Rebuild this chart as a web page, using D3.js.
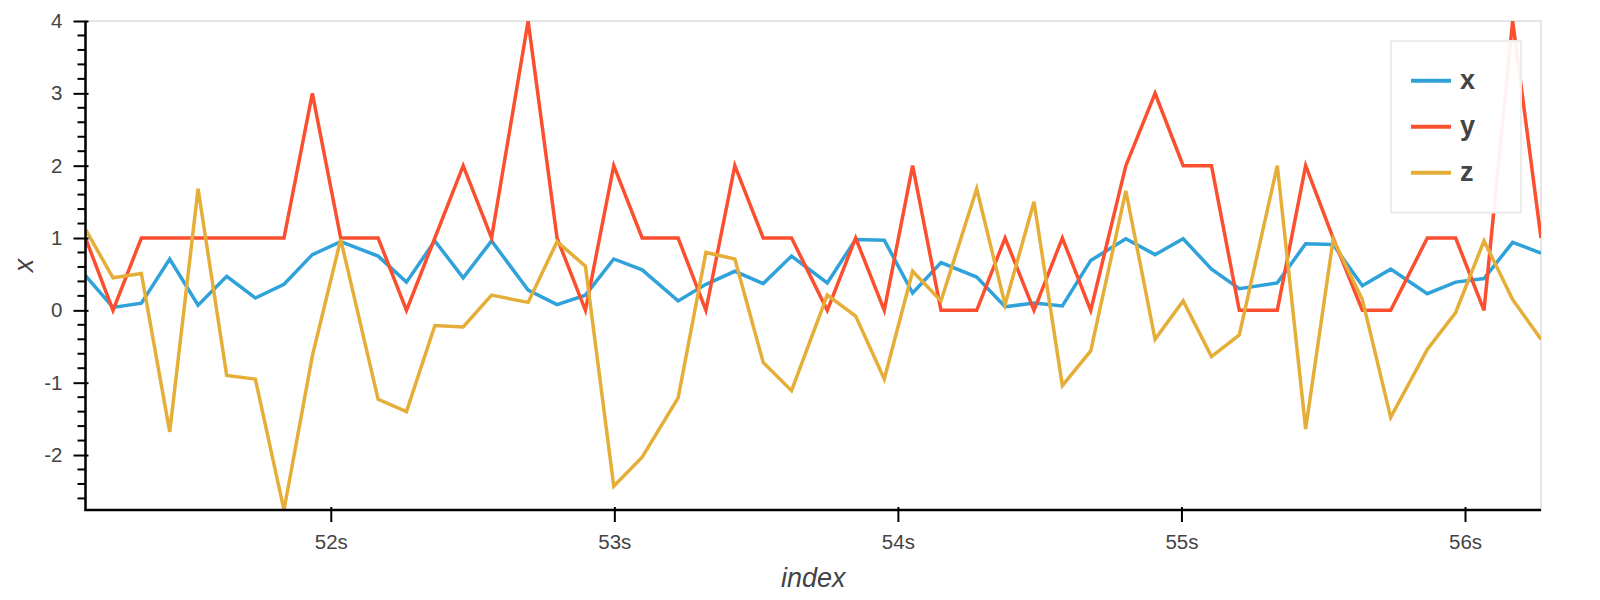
<!DOCTYPE html>
<html>
<head>
<meta charset="utf-8">
<script src="https://cdn.jsdelivr.net/npm/d3@7"></script>
<style>
  html, body { margin: 0; padding: 0; background: #fff; }
  svg { display: block; }
  text { font-family: "Liberation Sans", Arial, Helvetica, sans-serif; fill: #444; }
</style>
</head>
<body>
<svg id="chart" width="1600" height="600"></svg>
<script>
// ---- data ----
const times = [51.135, 51.232, 51.332, 51.432, 51.532, 51.633, 51.734, 51.835, 51.935, 52.035,
  52.167, 52.267, 52.367, 52.467, 52.567, 52.696, 52.798, 52.898, 52.998, 53.098,
  53.225, 53.323, 53.425, 53.525, 53.625, 53.751, 53.851, 53.952, 54.052, 54.152,
  54.278, 54.378, 54.480, 54.580, 54.680, 54.804, 54.907, 55.006, 55.106, 55.204,
  55.338, 55.438, 55.535, 55.638, 55.738, 55.867, 55.967, 56.067, 56.168, 56.268];
const xValues = [0.48, 0.04, 0.10, 0.71, 0.07, 0.47, 0.17, 0.36, 0.77, 0.95,
  0.75, 0.39, 0.96, 0.45, 0.96, 0.28, 0.08, 0.21, 0.71, 0.56,
  0.13, 0.36, 0.54, 0.37, 0.75, 0.38, 0.98, 0.97, 0.24, 0.66,
  0.46, 0.05, 0.10, 0.06, 0.69, 0.99, 0.77, 0.99, 0.57, 0.30,
  0.38, 0.92, 0.91, 0.34, 0.57, 0.23, 0.39, 0.44, 0.94, 0.79];
const yValues = [1, 0, 1, 1, 1, 1, 1, 1, 3, 1,
  1, 0, 1, 2, 1, 4, 1, 0, 2, 1,
  1, 0, 2, 1, 1, 0, 1, 0, 2, 0,
  0, 1, 0, 1, 0, 2, 3, 2, 2, 0,
  0, 2, 1, 0, 0, 1, 1, 0, 4, 1];
const zValues = [1.12, 0.45, 0.51, -1.68, 1.68, -0.90, -0.95, -2.76, -0.63, 0.98,
  -1.23, -1.40, -0.21, -0.23, 0.21, 0.11, 0.95, 0.61, -2.43, -2.03,
  -1.21, 0.80, 0.71, -0.72, -1.11, 0.21, -0.08, -0.95, 0.54, 0.13,
  1.68, 0.08, 1.50, -1.04, -0.56, 1.65, -0.40, 0.13, -0.64, -0.34,
  2.00, -1.64, 0.98, 0.15, -1.48, -0.54, -0.03, 0.96, 0.15, -0.40];
const seriesNames = ["x", "y", "z"];
const seriesColors = ["#30a2da", "#fc4f30", "#e5ae38"];
const xTickValues = [52, 53, 54, 55, 56];
const xTickLabels = ["52s", "53s", "54s", "55s", "56s"];
const yTickValues = [-2, -1, 0, 1, 2, 3, 4];
const yTickLabels = ["-2", "-1", "0", "1", "2", "3", "4"];
const xAxisTitle = "index";
const yAxisTitle = "x";

// ---- layout ----
const svg = d3.select("#chart");
const plot = { left: 85.5, right: 1541, top: 21, bottom: 510 };

const seriesValues = [xValues, yValues, zValues];
const series = seriesNames.map((name, i) => ({
  name, color: seriesColors[i],
  points: times.map((t, j) => ({ t, v: seriesValues[i][j] }))
}));

const allVals = seriesValues.flat();
const xScale = d3.scaleLinear().domain(d3.extent(times)).range([plot.left, plot.right]);
const yScale = d3.scaleLinear().domain([d3.min(allVals), d3.max(allVals)]).range([plot.bottom, plot.top]);

// outline
svg.append("rect")
  .attr("x", plot.left).attr("y", plot.top)
  .attr("width", plot.right - plot.left).attr("height", plot.bottom - plot.top)
  .attr("fill", "none").attr("stroke", "#e5e5e5").attr("stroke-width", 2);

// clip
svg.append("defs").append("clipPath").attr("id", "clip")
  .append("rect")
  .attr("x", plot.left).attr("y", plot.top)
  .attr("width", plot.right - plot.left).attr("height", plot.bottom - plot.top);

const line = d3.line().x(d => xScale(d.t)).y(d => yScale(d.v));
const gLines = svg.append("g").attr("clip-path", "url(#clip)");
series.forEach(s => {
  gLines.append("path")
    .datum(s.points)
    .attr("d", line)
    .attr("fill", "none")
    .attr("stroke", s.color)
    .attr("stroke-width", 3.5)
    .attr("stroke-linejoin", "miter");
});

// x axis
const xAxis = d3.axisBottom(xScale)
  .tickValues(xTickValues)
  .tickFormat((d, i) => xTickLabels[i])
  .tickSizeInner(12).tickSizeOuter(0).tickPadding(12);
const gx = svg.append("g").attr("transform", `translate(0,${plot.bottom})`).call(xAxis);
gx.select(".domain").attr("stroke", "#000").attr("stroke-width", 2.5)
  .attr("d", `M${plot.left - 1},0H${plot.right}`);
gx.selectAll(".tick line").attr("stroke", "#000").attr("stroke-width", 2).attr("y1", -3);
gx.selectAll(".tick text").attr("font-size", 20.5).attr("fill", "#444")
  .style("font-family", "'Liberation Sans', Arial, sans-serif");

// y minor ticks
const minorTicks = d3.range(-26, 40, 2).map(d => d / 10).filter(d => !Number.isInteger(d));
svg.append("g").selectAll("line").data(minorTicks).join("line")
  .attr("x1", plot.left - 8).attr("x2", plot.left)
  .attr("y1", d => yScale(d)).attr("y2", d => yScale(d))
  .attr("stroke", "#000").attr("stroke-width", 2);

// y axis
const yAxis = d3.axisLeft(yScale)
  .tickValues(yTickValues)
  .tickFormat((d, i) => yTickLabels[i])
  .tickSizeInner(12).tickSizeOuter(0).tickPadding(11);
const gy = svg.append("g").attr("transform", `translate(${plot.left},0)`).call(yAxis);
gy.select(".domain").attr("stroke", "#000").attr("stroke-width", 2.5)
  .attr("d", `M0,${plot.top}V${plot.bottom + 1}`);
gy.selectAll(".tick line").attr("stroke", "#000").attr("stroke-width", 2).attr("x1", 3);
gy.selectAll(".tick text").attr("font-size", 20.5).attr("fill", "#444")
  .style("font-family", "'Liberation Sans', Arial, sans-serif");

// axis titles
svg.append("text")
  .attr("x", (plot.left + plot.right) / 2).attr("y", 586.5)
  .attr("text-anchor", "middle")
  .attr("font-size", 27).attr("font-style", "italic")
  .text(xAxisTitle);
svg.append("text")
  .attr("transform", `translate(33.3,${(plot.top + plot.bottom) / 2}) rotate(-90)`)
  .attr("text-anchor", "middle")
  .attr("font-size", 27).attr("font-style", "italic")
  .text(yAxisTitle);

// legend
const legend = svg.append("g");
legend.append("rect")
  .attr("x", 1391).attr("y", 41).attr("width", 130).attr("height", 171.5)
  .attr("fill", "#fff").attr("fill-opacity", 0.93)
  .attr("stroke", "#ececec").attr("stroke-width", 2);
const items = legend.selectAll("g.item").data(series).join("g")
  .attr("class", "item")
  .attr("transform", (d, i) => `translate(0,${80.7 + i * 46})`);
items.append("line")
  .attr("x1", 1411).attr("x2", 1451).attr("y1", 0).attr("y2", 0)
  .attr("stroke", d => d.color).attr("stroke-width", 4);
items.append("text")
  .attr("x", 1460).attr("y", 8.6)
  .attr("font-size", 27)
  .attr("font-weight", 600)
  .text(d => d.name);
</script>
</body>
</html>
